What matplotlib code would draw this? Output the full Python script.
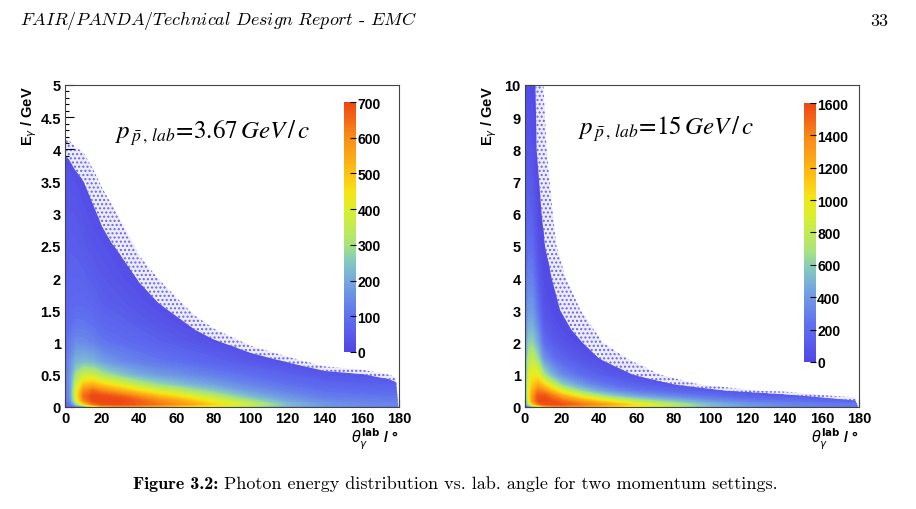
import numpy as np
import matplotlib.pyplot as plt
from matplotlib.colors import LinearSegmentedColormap, Normalize
from matplotlib.cm import ScalarMappable
from matplotlib.patches import Polygon
from matplotlib.ticker import MultipleLocator

plt.rcParams['font.family'] = ['Liberation Sans', 'DejaVu Sans']
plt.rcParams['hatch.linewidth'] = 1.0

# ---------------- left panel: p = 3.67 GeV/c ----------------
theta_left = [0, 3, 6, 10, 15, 20, 30, 40, 50, 60, 70, 80, 100, 120, 140, 160, 180]
energy_left = [0, 0.04, 0.1, 0.17, 0.25, 0.35, 0.5, 0.7, 1.0, 1.3, 1.6, 2.0, 2.5, 3.0, 3.5, 4.2, 5.0]
# counts per bin, one list per theta column (energy from bottom to top)
counts_left = [
    [60, 70, 90, 100, 100, 100, 100, 95, 85, 70, 60, 55, 48, 42, 32, 15, 10],
    [80, 110, 160, 175, 180, 180, 175, 160, 125, 95, 80, 70, 58, 45, 30, 12, 10],
    [100, 260, 380, 410, 400, 360, 300, 220, 150, 110, 85, 70, 55, 42, 25, 10, 10],
    [120, 450, 600, 640, 600, 500, 360, 230, 150, 108, 85, 65, 46, 30, 15, 10, 10],
    [260, 620, 700, 700, 650, 520, 360, 220, 135, 98, 75, 55, 35, 18, 10, 10, 10],
    [480, 680, 700, 690, 610, 470, 310, 185, 110, 80, 60, 45, 28, 14, 10, 10, 10],
    [540, 690, 700, 660, 540, 400, 250, 150, 95, 68, 48, 28, 12, 10, 10, 10, 10],
    [520, 670, 660, 590, 460, 330, 205, 128, 80, 52, 32, 15, 10, 10, 10, 10, 10],
    [480, 630, 600, 510, 390, 280, 175, 112, 65, 38, 18, 10, 10, 10, 10, 10, 10],
    [440, 590, 550, 450, 350, 245, 160, 100, 52, 25, 12, 10, 10, 10, 10, 10, 10],
    [400, 540, 480, 385, 295, 210, 142, 85, 38, 15, 10, 10, 10, 10, 10, 10, 10],
    [380, 470, 410, 330, 255, 185, 125, 72, 25, 10, 10, 10, 10, 10, 10, 10, 10],
    [300, 360, 290, 225, 175, 135, 95, 45, 15, 10, 10, 10, 10, 10, 10, 10, 10],
    [200, 230, 190, 160, 130, 100, 65, 25, 10, 10, 10, 10, 10, 10, 10, 10, 10],
    [150, 170, 145, 120, 100, 75, 40, 15, 10, 10, 10, 10, 10, 10, 10, 10, 10],
    [130, 150, 130, 110, 90, 65, 35, 12, 10, 10, 10, 10, 10, 10, 10, 10, 10],
    [120, 140, 120, 100, 80, 60, 30, 12, 10, 10, 10, 10, 10, 10, 10, 10, 10],
]
# edge of the densely filled region and of the sparse single-entry fringe
solid_theta_left = [0, 2, 5, 10, 15, 20, 25, 30, 40, 50, 60, 70, 80, 100, 120, 140, 160, 175, 178.5, 179.6]
solid_energy_left = [3.9, 3.85, 3.7, 3.5, 3.15, 2.8, 2.55, 2.35, 1.93, 1.62, 1.41, 1.2, 1.05, 0.84, 0.69, 0.56, 0.51, 0.43, 0.38, 0.0]
sparse_theta_left = [0, 2, 5, 10, 15, 20, 25, 30, 40, 50, 60, 70, 80, 100, 120, 140, 160, 175, 178.5, 179.6]
sparse_energy_left = [4.15, 4.15, 4.05, 3.95, 3.7, 3.4, 3.15, 2.9, 2.35, 2.0, 1.7, 1.42, 1.22, 0.95, 0.78, 0.63, 0.58, 0.5, 0.45, 0.0]
cbar_ticks_left = [0, 100, 200, 300, 400, 500, 600, 700]

# ---------------- right panel: p = 15 GeV/c ----------------
theta_right = [0, 2, 4, 7, 10, 15, 20, 30, 40, 50, 60, 80, 100, 120, 140, 160, 180]
energy_right = [0, 0.08, 0.2, 0.35, 0.5, 0.7, 1.0, 1.5, 2.0, 2.5, 3.0, 4.0, 5.0, 6.0, 8.0, 10.0]
counts_right = [
    [150, 250, 300, 320, 330, 330, 330, 320, 300, 280, 260, 220, 180, 140, 90, 40],
    [250, 700, 900, 950, 950, 920, 870, 740, 600, 480, 400, 300, 220, 160, 90, 40],
    [350, 1100, 1300, 1280, 1200, 1100, 980, 800, 620, 490, 400, 290, 200, 130, 60, 30],
    [500, 1400, 1580, 1550, 1420, 1220, 950, 650, 450, 330, 240, 120, 60, 30, 20, 20],
    [1000, 1550, 1600, 1560, 1380, 1080, 700, 380, 220, 130, 75, 30, 20, 20, 20, 20],
    [1200, 1580, 1550, 1420, 1150, 820, 480, 240, 120, 65, 30, 20, 20, 20, 20, 20],
    [1300, 1560, 1460, 1220, 900, 600, 340, 160, 70, 28, 20, 20, 20, 20, 20, 20],
    [1250, 1450, 1260, 920, 640, 400, 210, 80, 28, 20, 20, 20, 20, 20, 20, 20],
    [1150, 1330, 1050, 700, 450, 270, 135, 40, 20, 20, 20, 20, 20, 20, 20, 20],
    [1050, 1180, 860, 540, 330, 190, 85, 22, 20, 20, 20, 20, 20, 20, 20, 20],
    [950, 1020, 720, 430, 255, 140, 55, 20, 20, 20, 20, 20, 20, 20, 20, 20],
    [720, 760, 520, 310, 175, 82, 25, 20, 20, 20, 20, 20, 20, 20, 20, 20],
    [500, 520, 360, 215, 112, 45, 20, 20, 20, 20, 20, 20, 20, 20, 20, 20],
    [370, 390, 265, 150, 70, 25, 20, 20, 20, 20, 20, 20, 20, 20, 20, 20],
    [300, 320, 220, 110, 40, 20, 20, 20, 20, 20, 20, 20, 20, 20, 20, 20],
    [260, 280, 180, 80, 25, 20, 20, 20, 20, 20, 20, 20, 20, 20, 20, 20],
    [230, 250, 150, 60, 20, 20, 20, 20, 20, 20, 20, 20, 20, 20, 20, 20],
]
solid_theta_right = [0, 5.5, 6.3, 9, 10.8, 14.4, 19, 25, 31, 40, 58, 80, 109, 140, 160, 178, 179.6]
solid_energy_right = [10.5, 10.5, 8, 6, 5, 4, 3, 2.4, 2, 1.5, 1.0, 0.7, 0.5, 0.39, 0.29, 0.2, 0.0]
sparse_theta_right = [0, 9.5, 11.7, 15, 17, 22, 30, 42, 55, 73, 94, 127, 140, 160, 178, 179.6]
sparse_energy_right = [10.5, 10.5, 8, 6, 5, 4, 3, 2, 1.5, 1.0, 0.7, 0.5, 0.48, 0.37, 0.3, 0.0]
cbar_ticks_right = [0, 200, 400, 600, 800, 1000, 1200, 1400, 1600]

palette = LinearSegmentedColormap.from_list('root_pretty', [
    (0.00, '#5246e4'), (0.14, '#5f6ff0'), (0.28, '#75a6e0'), (0.36, '#85c8c0'),
    (0.43, '#a8e47c'), (0.57, '#dcf02a'), (0.64, '#f5e418'), (0.71, '#fcc414'),
    (0.86, '#fa8c16'), (1.00, '#ee4614')])


def draw_panel(ax, theta, energy, counts, solid_t, solid_e, sparse_t, sparse_e,
               vmax, cticks, ymax, ymajor, label, label_pos, cbar_rect):
    norm = Normalize(0, vmax)
    z = np.array(counts, dtype=float).T

    # sparse fringe of single entries beyond the filled region
    fringe = np.column_stack([np.r_[sparse_t, solid_t[::-1]], np.r_[sparse_e, solid_e[::-1]]])
    ax.add_patch(Polygon(fringe, closed=True, facecolor='#ececfc', edgecolor='#6a64ea',
                         hatch='....', linewidth=0, zorder=1))

    cs = ax.contourf(theta, energy, z, levels=np.linspace(0, vmax, 81), cmap=palette, norm=norm, zorder=2)
    body = Polygon(np.column_stack([np.r_[solid_t, 0], np.r_[solid_e, 0]]), closed=True,
                   transform=ax.transData, facecolor='none', edgecolor='none')
    ax.add_patch(body)
    cs.set_clip_path(body)

    ax.set_xlim(0, 180)
    ax.set_ylim(0, ymax)
    ax.xaxis.set_major_locator(MultipleLocator(20))
    ax.xaxis.set_minor_locator(MultipleLocator(2))
    ax.yaxis.set_major_locator(MultipleLocator(ymajor))
    ax.yaxis.set_minor_locator(MultipleLocator(ymajor / 5))
    ax.tick_params(which='both', direction='in', top=False, right=False, labelsize=10.5, width=0.8)
    ax.tick_params(axis='x', which='major', length=5.5, pad=3)
    ax.tick_params(axis='x', which='minor', length=2)
    ax.tick_params(axis='y', which='major', length=6.5, pad=3)
    ax.tick_params(axis='y', which='minor', length=3.2)
    if ymajor == 0.5:
        ax.yaxis.set_major_formatter(lambda v, p: f'{v:g}')
    # medium ticks at every 10 degrees
    sec = ax.secondary_xaxis('bottom')
    sec.set_xticks(np.arange(10, 180, 20))
    sec.tick_params(direction='in', length=3.8, width=0.8, labelbottom=False)
    sec.spines['bottom'].set_visible(False)
    for s in ax.spines.values():
        s.set_linewidth(0.8)
        s.set_color('#444444')
    for t in ax.get_xticklabels() + ax.get_yticklabels():
        t.set_fontweight('bold')

    ax.set_ylabel(r'E$_\gamma$ / GeV', loc='top', fontsize=10.5, fontweight='bold',
                  math_fontfamily='dejavusans')
    ax.yaxis.set_label_coords(-0.078, 1.0)
    ax.set_xlabel(r'$\theta_{\gamma}^{\mathbf{lab}}$ / °', loc='right', fontsize=10.5,
                  fontweight='bold', math_fontfamily='dejavusans')
    ax.xaxis.set_label_coords(1.0, -0.058)

    ax.text(label_pos[0], label_pos[1], label, transform=ax.transAxes, fontsize=18,
            math_fontfamily='stix', ha='left', va='baseline')

    cax = ax.inset_axes(cbar_rect)
    cb = plt.colorbar(ScalarMappable(norm=norm, cmap=palette), cax=cax, ticks=cticks)
    cb.outline.set_visible(False)
    cax.tick_params(direction='in', length=4, width=0.8, pad=1, labelsize=10)
    for t in cax.get_yticklabels():
        t.set_fontweight('bold')


fig = plt.figure(figsize=(9.16, 5.10), dpi=100)
ax_l = fig.add_axes([0.0710, 0.2, 0.3646, 0.6314])
ax_r = fig.add_axes([0.5731, 0.2, 0.3646, 0.6314])

draw_panel(ax_l, theta_left, energy_left, counts_left, solid_theta_left, solid_energy_left,
           sparse_theta_left, sparse_energy_left, 700, cbar_ticks_left, 5, 0.5,
           r'$p_{\,\bar{p}\,,\,lab}\!=\!3.67\,GeV\,/\,c$', (0.15, 0.835),
           [0.835, 0.171, 0.036, 0.776])
draw_panel(ax_r, theta_right, energy_right, counts_right, solid_theta_right, solid_energy_right,
           sparse_theta_right, sparse_energy_right, 1600, cbar_ticks_right, 10, 1,
           r'$p_{\,\bar{p}\,,\,lab}\!=\!15\,GeV\,/\,c$', (0.159, 0.848),
           [0.835, 0.14, 0.036, 0.804])

# page header and caption
fig.text(20 / 916, 1 - 21 / 510,
         r'$\mathit{FAIR/PANDA/Technical\ Design\ Report}$ - $\mathit{EMC}$',
         family='cmr10', fontsize=13, math_fontfamily='cm', ha='left', va='center')
fig.text(888 / 916, 1 - 21 / 510, '33', family='cmr10', fontsize=13,
         ha='right', va='center')
cap = fig.text(133 / 916, 1 - 485 / 510, 'Figure 3.2:', family='cmb10', fontsize=13,
               ha='left', va='center')
plt.annotate(' Photon energy distribution vs. lab. angle for two momentum settings.',
             xy=(1, 0), xycoords=cap, ha='left', va='bottom', family='cmr10',
             fontsize=13, annotation_clip=False)

fig.savefig('out.png', dpi=100, facecolor='white')
